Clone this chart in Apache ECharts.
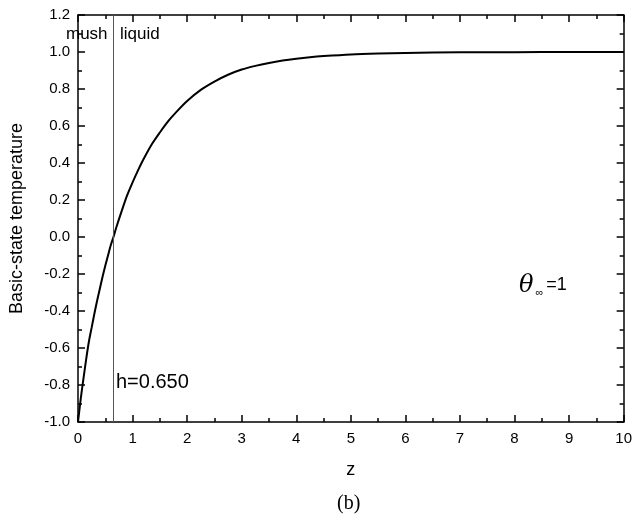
<!DOCTYPE html>
<html>
<head>
<meta charset="utf-8">
<script src="https://cdn.jsdelivr.net/npm/echarts@6/dist/echarts.min.js"></script>
<style>
  html, body { margin: 0; padding: 0; background: #fff; }
  #chart { width: 635px; height: 517px; }
</style>
</head>
<body>
<div id="chart"></div>
<script>
// values
var zValues = [0, 0.02, 0.05, 0.1, 0.15, 0.2, 0.25, 0.3, 0.35, 0.4, 0.45, 0.5, 0.55, 0.6, 0.65, 0.7, 0.8, 0.9, 1.0, 1.1, 1.2, 1.35, 1.5, 1.65, 1.8, 2.0, 2.25, 2.5, 2.75, 3.0, 3.25, 3.5, 3.75, 4.0, 4.25, 4.5, 5.0, 5.5, 6.0, 7.0, 8.0, 9.0, 10.0]
var thetaValues = [-1.0, -0.95, -0.875, -0.765, -0.66, -0.565, -0.49, -0.415, -0.345, -0.28, -0.215, -0.155, -0.1, -0.045, 0.0, 0.05, 0.14, 0.225, 0.295, 0.36, 0.42, 0.5, 0.565, 0.625, 0.675, 0.735, 0.795, 0.84, 0.877, 0.905, 0.925, 0.941, 0.954, 0.964, 0.972, 0.978, 0.987, 0.992, 0.995, 0.998, 0.999, 1.0, 1.0]
var interfaceZ = 0.65
var xTicks = { min: 0, max: 10, step: 1 }
var yTicks = { min: -1, max: 1.2, step: 0.2 }

var seriesData = zValues.map(function (z, i) { return [z, thetaValues[i]] })

var font = 'Liberation Sans, Arial, sans-serif'
var black = '#000'

function axisBase(extra) {
  var a = {
    axisLine: { show: true, onZero: false, lineStyle: { color: black, width: 1.5 } },
    axisTick: { show: true, inside: true, length: 7, lineStyle: { color: black, width: 1.5 } },
    minorTick: { show: true, splitNumber: 2, length: 4, lineStyle: { color: black, width: 1.5 } },
    splitLine: { show: false },
    minorSplitLine: { show: false }
  }
  return Object.assign(a, extra)
}

var chart = echarts.init(document.getElementById('chart'))
chart.setOption({
  animation: false,
  backgroundColor: '#fff',
  grid: { left: 77, right: 9, top: 15, bottom: 95 },
  xAxis: [
    axisBase({
      type: 'value', min: xTicks.min, max: xTicks.max, interval: xTicks.step,
      position: 'bottom',
      name: 'z', nameLocation: 'middle', nameGap: 39,
      nameTextStyle: { fontFamily: font, fontSize: 18, color: black },
      axisLabel: { color: black, fontFamily: font, fontSize: 15, margin: 9 }
    }),
    axisBase({
      type: 'value', min: xTicks.min, max: xTicks.max, interval: xTicks.step,
      position: 'top',
      axisLabel: { show: false }
    })
  ],
  yAxis: [
    axisBase({
      type: 'value', min: yTicks.min, max: yTicks.max, interval: yTicks.step,
      position: 'left',
      name: 'Basic-state temperature', nameLocation: 'middle', nameGap: 52,
      nameTextStyle: { fontFamily: font, fontSize: 18, color: black },
      axisLabel: {
        color: black, fontFamily: font, fontSize: 15, margin: 8,
        formatter: function (v) { return v.toFixed(1) }
      }
    }),
    axisBase({
      type: 'value', min: yTicks.min, max: yTicks.max, interval: yTicks.step,
      position: 'right',
      axisLabel: { show: false }
    })
  ],
  series: [
    {
      type: 'line',
      data: seriesData,
      smooth: 0.3,
      showSymbol: false,
      lineStyle: { color: black, width: 2 },
      markLine: {
        silent: true,
        symbol: 'none',
        label: { show: false },
        lineStyle: { color: '#555', width: 1, type: 'solid' },
        data: [{ xAxis: interfaceZ }]
      }
    }
  ],
  graphic: [
    { type: 'text', left: 66, top: 26, style: { text: 'mush', font: '17px ' + font, fill: black } },
    { type: 'text', left: 120, top: 26, style: { text: 'liquid', font: '17px ' + font, fill: black } },
    { type: 'text', left: 116, top: 372, style: { text: 'h=0.650', font: '20px ' + font, fill: black } },
    {
      type: 'text', left: 519, top: 274,
      style: {
        text: '{t|θ}{s|∞}{e|=1}',
        rich: {
          t: { font: 'italic 24px DejaVu Serif, serif', fill: black, verticalAlign: 'bottom' },
          s: { font: '11px ' + font, fill: black, verticalAlign: 'bottom', padding: [0, 2, 0, 2] },
          e: { font: '18px ' + font, fill: black, verticalAlign: 'bottom', padding: [0, 0, 4, 1] }
        }
      }
    },
    { type: 'text', left: 337, top: 494, style: { text: '(b)', font: '20px Liberation Serif, serif', fill: black } }
  ]
})
</script>
</body>
</html>
